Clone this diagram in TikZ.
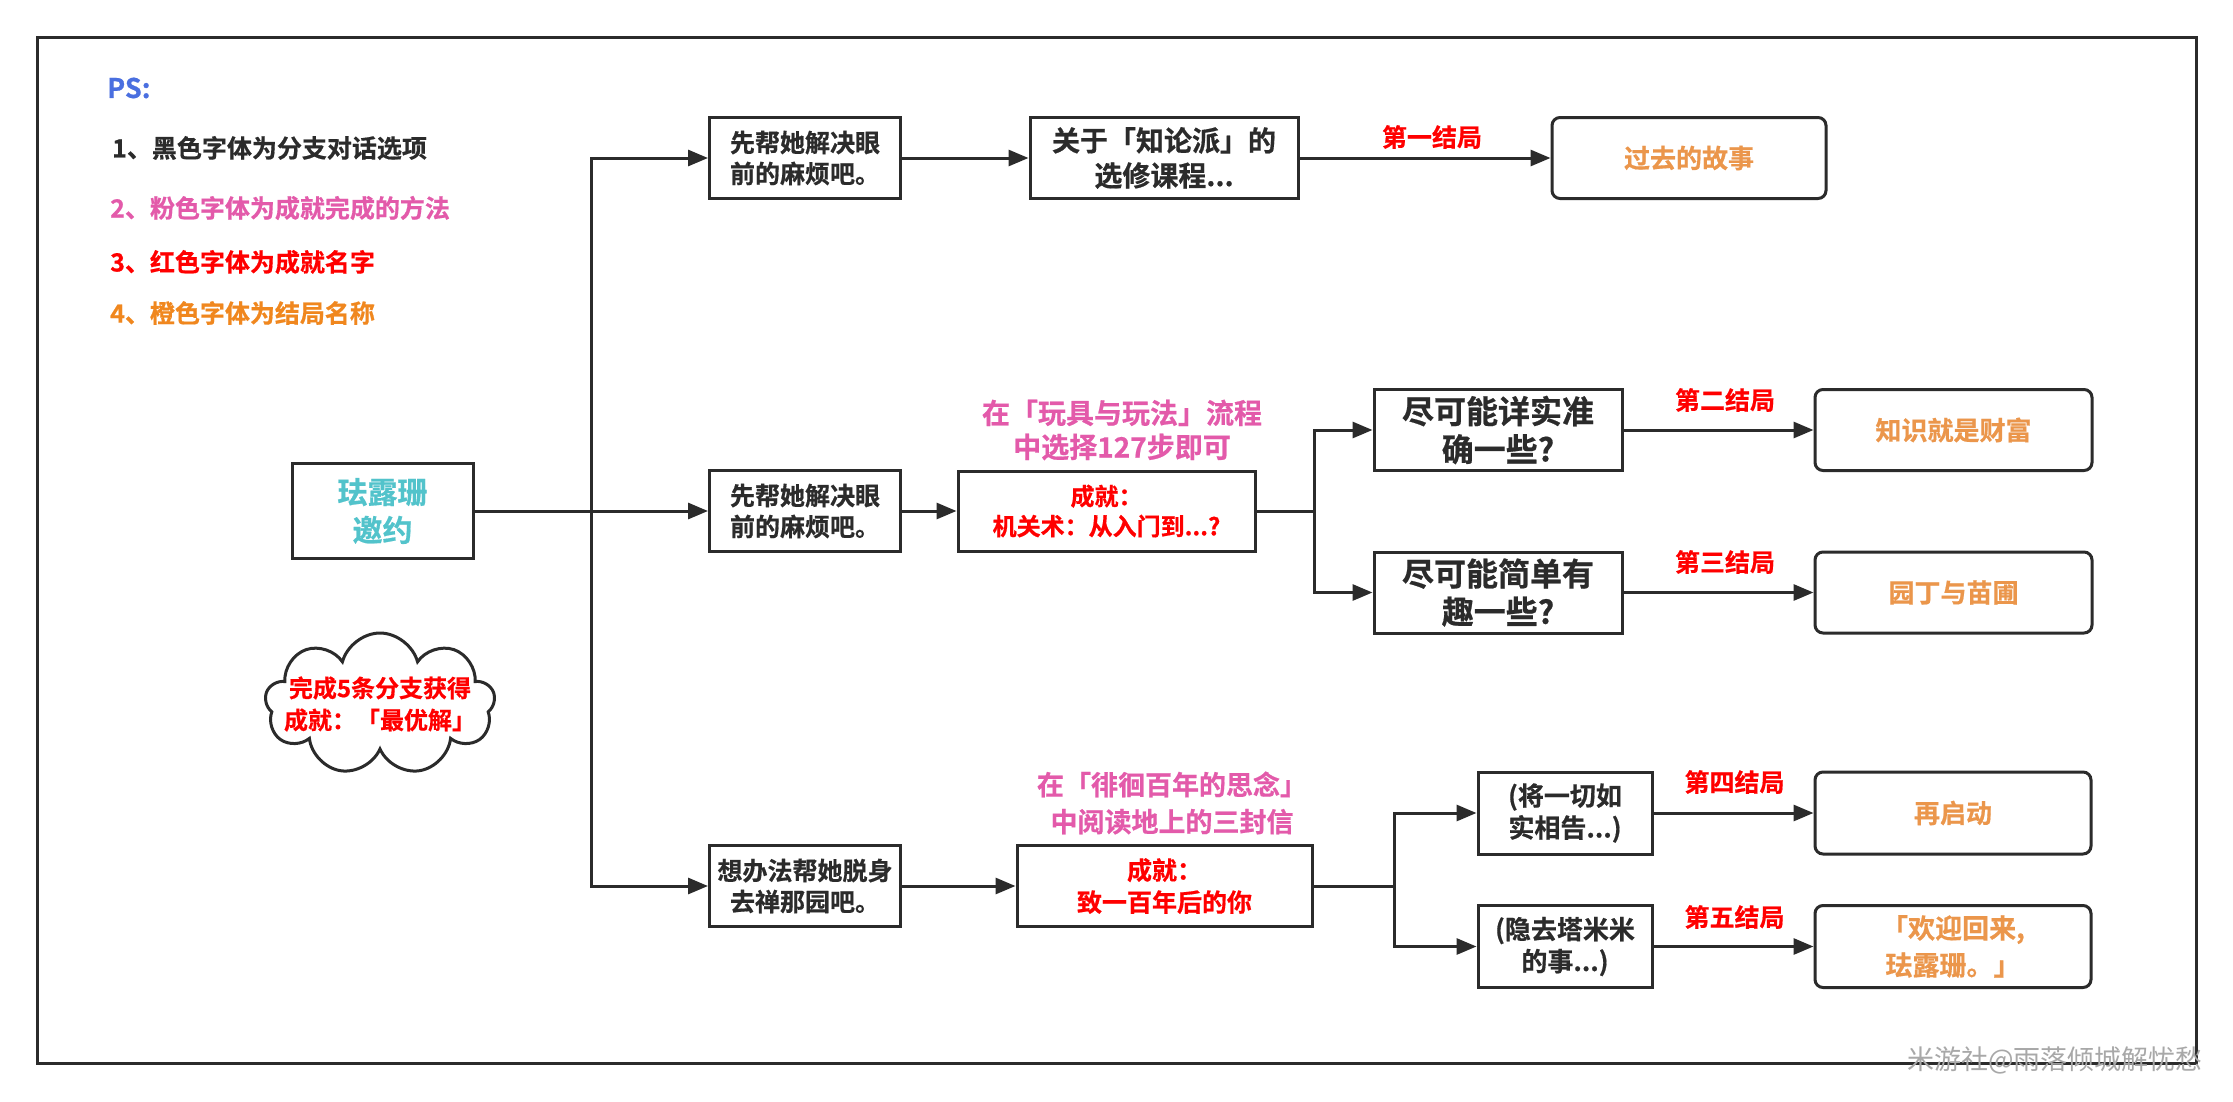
\documentclass[tikz,border=0pt]{standalone}
\usepackage{fontspec}
\setmainfont{Noto Sans CJK SC}[BoldFont={Noto Sans CJK SC Bold},BoldFeatures={FakeBold=0.6}]
\usetikzlibrary{arrows.meta,shapes.symbols}
\definecolor{ink}{HTML}{2B2B2B}
\definecolor{psblue}{HTML}{4A6FE0}
\definecolor{cpink}{HTML}{E35AAA}
\definecolor{achred}{HTML}{FF0000}
\definecolor{endc}{HTML}{EB964B}
\definecolor{legorange}{HTML}{F0871E}
\definecolor{cteal}{HTML}{52C3CB}
\definecolor{wmark}{HTML}{A8A8A8}
\newcommand\fs[2]{\fontsize{#1}{#2}\selectfont}
\tikzset{
  base/.style={draw=ink, line width=3pt, inner sep=0pt, align=center},
  optbox/.style={base, text=ink},
  endbox/.style={base, rounded corners=8pt, text=endc, font=\bfseries\fs{26}{32}},
  conn/.style={draw=ink, line width=3pt},
  arr/.style={conn, -{Triangle[length=20pt,width=16pt]}},
  lbl/.style={text=achred, font=\bfseries\fs{25}{30}, inner sep=0pt},
  pinklbl/.style={text=cpink, align=center, inner sep=0pt},
  legend/.style={anchor=west, inner sep=0pt, font=\bfseries\fs{25}{30}},
}
\begin{document}
\begin{tikzpicture}[x=1pt,y=-1pt]
\useasboundingbox (0,0) rectangle (2233,1101);
\fill[white] (0,0) rectangle (2233,1101);
% frame
\draw[conn] (37,37) rectangle (2196,1063);

% legend
\node[legend, text=psblue, font=\bfseries\fs{27}{32}] (ps) at (107,88) {PS:};
\node[legend, text=ink] (leg1) at (112,148) {1、黑色字体为分支对话选项};
\node[legend, text=cpink] (leg2) at (110,208) {2、粉色字体为成就完成的方法};
\node[legend, text=achred] (leg3) at (110,262) {3、红色字体为成就名字};
\node[legend, text=legorange] (leg4) at (110,313) {4、橙色字体为结局名称};

% root
\node[optbox, text=cteal, font=\bfseries\fs{30}{38}, minimum width=181pt, minimum height=95pt] (root) at (382.5,511) {珐露珊\\邀约};

% cloud
\node[cloud, cloud puffs=9, cloud ignores aspect, draw=ink, line width=3pt, minimum width=230pt, minimum height=142pt, inner sep=0pt] (cloud) at (380,704) {};
\node[text=achred, align=center, inner sep=0pt, font=\bfseries\fs{24}{32}] (cloudtxt) at (cloud.center) {完成5条分支获得\\成就：「最优解」};

% first column
\node[optbox, font=\bfseries\fs{25}{31}, minimum width=191pt, minimum height=81pt] (b1) at (805,158) {先帮她解决眼\\前的麻烦吧。};
\node[optbox, font=\bfseries\fs{25}{31}, minimum width=191pt, minimum height=81pt] (b2) at (805,511) {先帮她解决眼\\前的麻烦吧。};
\node[optbox, font=\bfseries\fs{25}{31}, minimum width=191pt, minimum height=81pt] (b3) at (805,886) {想办法帮她脱身\\去禅那园吧。};

\coordinate (j0) at (591,511);
\draw[arr] (root) -- (b2);
\draw[arr] (j0) |- (b1.west);
\draw[arr] (j0) |- (b3.west);

% top branch
\node[optbox, font=\bfseries\fs{28}{35}, minimum width=268pt, minimum height=81pt] (course) at (1164,158) {关于「知论派」的\\选修课程...};
\node[endbox, minimum width=274pt, minimum height=81pt] (end1) at (1689,158) {过去的故事};
\draw[arr] (b1) -- (course);
\draw[arr] (course) -- (end1);
\node[lbl] (l1) at (1432,137) {第一结局};

% middle branch
\node[pinklbl, font=\bfseries\fs{28}{34}] (pink1) at (1122,430) {在「玩具与玩法」流程\\中选择127步即可};
\node[optbox, text=achred, font=\bfseries\fs{24}{30}, minimum width=297pt, minimum height=80pt] (ach1) at (1106.5,511) {成就：\\机关术：从入门到...?};
\draw[arr] (b2) -- (ach1);
\coordinate (j1) at (1314,511);
\draw[conn] (ach1.east) -- (j1);
\node[optbox, font=\bfseries\fs{32}{38}, minimum width=248pt, minimum height=81pt] (q1) at (1498,430) {尽可能详实准\\确一些?};
\node[optbox, font=\bfseries\fs{32}{38}, minimum width=248pt, minimum height=81pt] (q2) at (1498,592.5) {尽可能简单有\\趣一些?};
\draw[arr] (j1) |- (q1.west);
\draw[arr] (j1) |- (q2.west);
\node[endbox, minimum width=277pt, minimum height=81pt] (end2) at (1953.5,430) {知识就是财富};
\node[endbox, minimum width=277pt, minimum height=81pt] (end3) at (1953.5,592.5) {园丁与苗圃};
\draw[arr] (q1) -- (end2);
\draw[arr] (q2) -- (end3);
\node[lbl] (l2) at (1725,400) {第二结局};
\node[lbl] (l3) at (1725,562) {第三结局};

% bottom branch
\node[pinklbl, font=\bfseries\fs{27}{37}] (pink2) at (1172,803) {在「徘徊百年的思念」\\中阅读地上的三封信};
\node[optbox, text=achred, font=\bfseries\fs{25}{32}, minimum width=295pt, minimum height=81pt] (ach2) at (1164.5,886) {成就：\\致一百年后的你};
\draw[arr] (b3) -- (ach2);
\coordinate (j2) at (1394,886);
\draw[conn] (ach2.east) -- (j2);
\node[optbox, font=\bfseries\fs{26}{32}, minimum width=174pt, minimum height=82pt] (a1) at (1565,813) {(将一切如\\实相告...)};
\node[optbox, font=\bfseries\fs{26}{32}, minimum width=174pt, minimum height=82pt] (a2) at (1565,946.5) {(隐去塔米米\\的事...)};
\draw[arr] (j2) |- (a1.west);
\draw[arr] (j2) |- (a2.west);
\node[endbox, minimum width=276pt, minimum height=82pt] (end4) at (1953,813) {再启动};
\node[endbox, font=\bfseries\fs{27}{37}, minimum width=276pt, minimum height=82pt] (end5) at (1953,946.5) {「欢迎回来,\\珐露珊。」};
\draw[arr] (a1) -- (end4);
\draw[arr] (a2) -- (end5);
\node[lbl] (l4) at (1734.5,782) {第四结局};
\node[lbl] (l5) at (1734.5,917) {第五结局};

% watermark
\node[text=wmark, inner sep=0pt, font=\fs{27}{30}] (wm) at (2055,1060) {米游社@雨落倾城解忧愁};
\end{tikzpicture}
\end{document}
